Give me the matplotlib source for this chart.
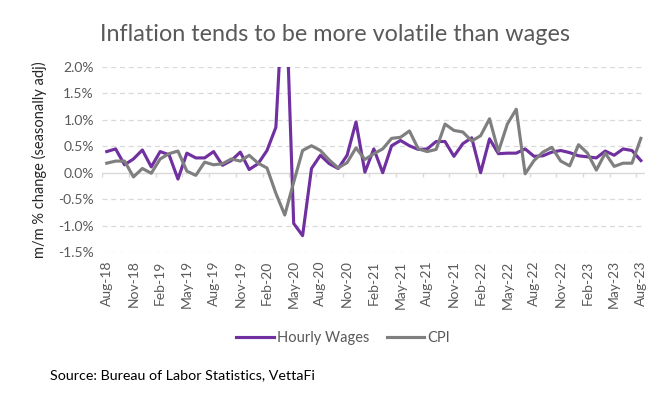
import matplotlib.pyplot as plt
import numpy as np
import pandas as pd

plt.rcParams['font.family'] = ['Lato', 'DejaVu Sans']

# monthly categories, Aug-18 .. Aug-23
months = list(pd.date_range('2018-08-01', '2023-08-01', freq='MS').strftime('%b-%y'))

# m/m % change
hourly_wages = [0.40, 0.45, 0.15, 0.26, 0.43, 0.11, 0.40, 0.34, -0.12, 0.37,
                0.28, 0.28, 0.40, 0.14, 0.23, 0.39, 0.06, 0.17, 0.42, 0.86,
                4.00, -0.96, -1.19, 0.08, 0.33, 0.17, 0.08, 0.33, 0.96, 0.01,
                0.45, 0.00, 0.51, 0.61, 0.51, 0.44, 0.45, 0.59, 0.59, 0.31,
                0.55, 0.66, 0.00, 0.64, 0.36, 0.37, 0.37, 0.45, 0.31, 0.32,
                0.39, 0.42, 0.38, 0.32, 0.30, 0.28, 0.41, 0.33, 0.45, 0.42,
                0.23]
cpi = [0.18, 0.22, 0.22, -0.08, 0.08, -0.01, 0.26, 0.36, 0.41, 0.03,
       -0.05, 0.20, 0.15, 0.17, 0.26, 0.22, 0.33, 0.18, 0.09, -0.39,
       -0.80, -0.18, 0.42, 0.51, 0.42, 0.24, 0.09, 0.19, 0.47, 0.25,
       0.36, 0.45, 0.65, 0.67, 0.79, 0.45, 0.40, 0.44, 0.92, 0.80,
       0.77, 0.60, 0.70, 1.02, 0.40, 0.92, 1.20, -0.02, 0.23, 0.39,
       0.48, 0.22, 0.13, 0.53, 0.37, 0.05, 0.37, 0.12, 0.18, 0.18,
       0.65]

yticks = [-1.5, -1.0, -0.5, 0.0, 0.5, 1.0, 1.5, 2.0]

TXT = '#595959'
GRID = '#d9d9d9'

fig = plt.figure(figsize=(6.69, 3.98), dpi=100)
ax = fig.add_axes([0.1529, 0.3668, 0.8117, 0.4649])

x = np.arange(len(months))
ax.plot(x, hourly_wages, color='#7030a0', lw=2.25, label='Hourly Wages',
        solid_joinstyle='round')
ax.plot(x, cpi, color='#7f7f7f', lw=2.25, label='CPI', solid_joinstyle='round')

ax.set_xlim(-0.5, len(months) - 0.5)
ax.set_ylim(-1.5, 2.0)

# gridlines (dashed) and category axis at zero
for v in yticks:
    if v != 0:
        ax.axhline(v, color=GRID, lw=0.9, ls=(0, (4, 3)), zorder=0)
ax.axhline(0, color=GRID, lw=1.0, zorder=0)
ax.vlines(np.arange(-0.5, len(months) - 1, 3), -0.09, 0, color=GRID, lw=1.0, zorder=0)

ax.set_yticks(yticks)
ax.set_yticklabels([f'{v:.1f}%' for v in yticks], color=TXT, fontsize=10)
ax.set_xticks(x[::3])
ax.set_xticklabels(months[::3], rotation=90, color=TXT, fontsize=10)
ax.tick_params(length=0, pad=6)
for s in ax.spines.values():
    s.set_visible(False)

ax.set_ylabel('m/m % change (seasonally adj)', fontsize=10.5, color='#262626', labelpad=8)

fig.text(0.5, 0.914, 'Inflation tends to be more volatile than wages',
         ha='center', va='center', fontsize=16.8, color=TXT)

fig.legend(loc='center', bbox_to_anchor=(343 / 669, 1 - 338 / 398), ncol=2,
           frameon=False, fontsize=10.5, handlelength=2.6, columnspacing=1.2,
           handletextpad=0.2, labelcolor=TXT)

fig.text(50 / 669, 1 - 375 / 398, 'Source: Bureau of Labor Statistics, VettaFi',
         ha='left', va='center', fontsize=10.3, color='black')

fig.savefig('out.png', dpi=100)
